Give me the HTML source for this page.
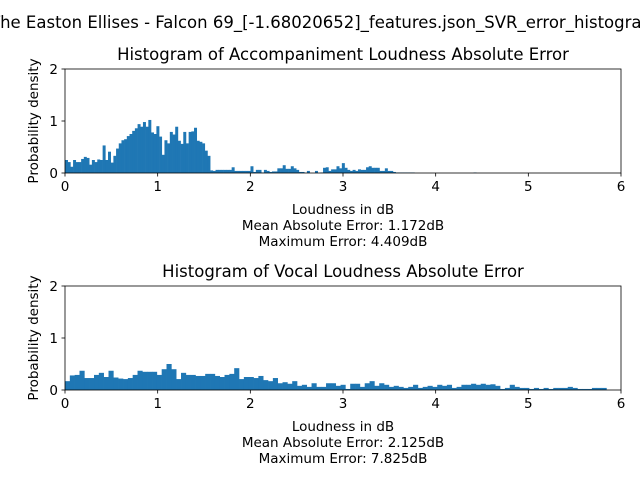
<!DOCTYPE html>
<html><head><meta charset="utf-8"><style>
body{margin:0;background:#fff}
svg{display:block;font-family:"DejaVu Sans","Liberation Sans",sans-serif}
</style></head><body>
<svg id="chart" width="640" height="480" viewBox="0 0 640 480" xmlns="http://www.w3.org/2000/svg">
<rect width="640" height="480" fill="#fff"/>
<text x="-10" y="28" font-size="16.5" fill="#000">The Easton Ellises - Falcon 69_[-1.68020652]_features.json_SVR_error_histograms</text>
<g id="ax1"></g>
<g id="ax2"></g>
</svg>
<script>
const accMax = 4.409;
const accBins = 152;
const accValues = [0.25,0.21,0.12,0.25,0.21,0.21,0.27,0.31,0.29,0.16,0.25,0.21,0.26,0.25,0.53,0.25,0.41,0.20,0.33,0.47,0.57,0.63,0.65,0.71,0.75,0.81,0.86,0.94,0.89,0.98,
0.89,1.02,0.78,0.75,0.90,0.70,0.35,0.63,0.57,0.79,0.74,0.89,0.62,0.56,0.79,0.57,0.79,0.80,0.87,0.62,0.60,0.57,0.43,0.33,0.05,0.04,0.06,
0.06,0.06,0.06,0.06,0.06,0.11,0.04,0.04,0.04,0.04,0.04,0.04,0.13,0.02,0.06,0.06,0.01,0.06,0.04,0.02,0.03,0.03,0.09,0.09,0.15,0.08,0.08,0.13,0.09,0.06,0.02,0.02,0,0.04,0,0,0.04,0,0.01,
0.10,0.11,0.04,0.07,0.07,0.13,0.09,0.19,0.10,0.06,0.04,0.06,0.04,0.07,0.06,0.06,0.11,0.13,0.10,0.10,0.10,0.04,0.04,0.09,0.04,0.04,0.02,0.01,0.01,0.01,0.01,0.01,0.01,0.01,
0,0,0,0,0,0,0,0,0,0,0,0,0,0,0,0,0,0,0,0,0,0,0.01,0];
const vocMax = 7.825;
const vocBins = 150;
const vocValues = [0.17,0.28,0.29,0.37,0.23,0.23,0.29,0.33,0.25,0.37,0.24,0.22,0.21,0.23,0.29,0.37,0.35,0.35,0.35,0.29,0.40,0.50,0.40,0.21,0.33,0.29,0.29,0.27,0.27,0.31,
0.31,0.27,0.25,0.29,0.31,0.42,0.21,0.25,0.25,0.23,0.27,0.19,0.17,0.23,0.13,0.15,0.12,0.17,0.08,0.10,0.06,0.13,0.06,0.06,0.13,
0.13,0.08,0.10,0.02,0.12,0.12,0.06,0.13,0.17,0.08,0.13,0.10,0.06,0.08,0.06,0.04,0.06,0.10,0.04,0.06,0.08,0.06,0.10,0.08,0.10,0.04,0.06,0.10,0.10,0.12,0.10,0.12,0.10,0.11,0.08,0.02,0.04,0.10,0.06,0.04,0.04,0.02,0.04,0.02,0.04,0.02,0.04,0.04,0.04,0.06,0.04,0.02,0.02,0.02,0.04,0.04,0.04,0,0,0];
const xTicks = [0,1,2,3,4,5,6];
const yTicks = [0,1,2];
const NS="http://www.w3.org/2000/svg";
function mk(tag,attrs,parent){const e=document.createElementNS(NS,tag);for(const k in attrs)e.setAttribute(k,attrs[k]);parent.appendChild(e);return e;}
function drawAxes(g,top,values,bins,maxv,title,mae,maxe,pfx){
  const L=65,R=621,B=top+104;
  const xs=v=>L+(R-L)*v/6, ys=v=>B-(B-top)*v/2;
  const w=maxv/bins;
  values.forEach((v,i)=>{
    const x0=i*w; if(x0>=6||v<=0)return;
    const x1=Math.min(6,(i+1)*w);
    const r=mk('rect',{x:xs(x0),y:ys(v),width:xs(x1)-xs(x0)+0.3,height:B-ys(v),fill:'#1f77b4'},g);
    
    
  });
  const fr=mk('rect',{x:L,y:top,width:R-L,height:B-top,fill:'none',stroke:'#000','stroke-width':0.8},g);
  
  
  xTicks.forEach(t=>{
    mk('line',{x1:xs(t),x2:xs(t),y1:B,y2:B+3.5,stroke:'#000','stroke-width':0.8},g);
    const tx=mk('text',{x:xs(t),y:B+18,'font-size':13.5,'text-anchor':'middle'},g);tx.textContent=t;
    
    
  });
  yTicks.forEach(t=>{
    mk('line',{x1:L-3.5,x2:L,y1:ys(t),y2:ys(t),stroke:'#000','stroke-width':0.8},g);
    const tx=mk('text',{x:L-7,y:ys(t)+5,'font-size':13.5,'text-anchor':'end'},g);tx.textContent=t;
    
    
  });
  const tt=mk('text',{x:343,y:top-9,'font-size':16.5,'text-anchor':'middle'},g);tt.textContent=title;
  
  
  const yl=mk('text',{x:0,y:0,'font-size':13.5,'text-anchor':'middle',transform:`translate(38,${(top+B)/2}) rotate(-90)`},g);yl.textContent='Probability density';
  
  
  const lines=['Loudness in dB','Mean Absolute Error: '+mae,'Maximum Error: '+maxe];
  lines.forEach((s,i)=>{
    const t=mk('text',{x:343,y:B+41+i*16,'font-size':13.5,'text-anchor':'middle'},g);t.textContent=s;
    
    
  });
}
drawAxes(document.getElementById('ax1'),69,accValues,accBins,accMax,'Histogram of Accompaniment Loudness Absolute Error','1.172dB','4.409dB','acc');
drawAxes(document.getElementById('ax2'),286,vocValues,vocBins,vocMax,'Histogram of Vocal Loudness Absolute Error','2.125dB','7.825dB','voc');
</script>
</body></html>
